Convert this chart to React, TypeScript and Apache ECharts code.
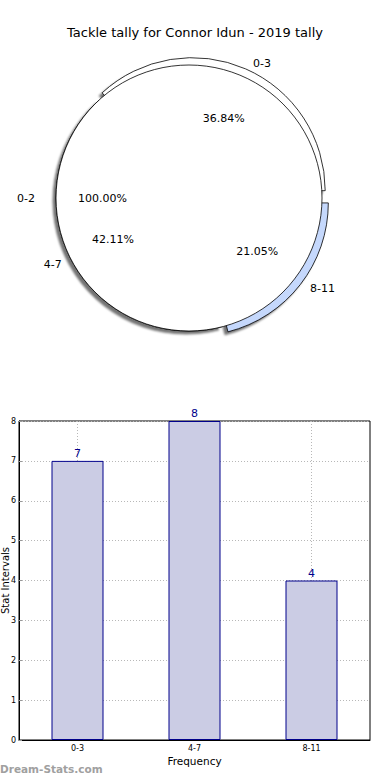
import React, { useEffect, useRef } from 'react';
import * as echarts from 'echarts';

const chartTitle = 'Tackle tally for Connor Idun - 2019 tally';
const fullSliceName = '0-2';
const pieNames = ['0-3', '4-7', '8-11'];
const pieValues = [7, 8, 4];
const pieColors = ['#ffffff', '#ffffff', '#c5d8fc'];
const pieExploded = [true, false, true];
const barCategories = ['0-3', '4-7', '8-11'];
const barValues = [7, 8, 4];
const yMin = 0;
const yMax = 8;
const yStep = 1;
const xAxisName = 'Frequency';
const yAxisName = 'Stat Intervals';
const watermark = 'Dream-Stats.com';

const FONT = '"DejaVu Sans", sans-serif';

export default function App() {
  const ref = useRef<HTMLDivElement>(null);
  useEffect(() => {
    if (!ref.current) return;
    const chart = echarts.init(ref.current, undefined, { renderer: 'svg' });
    const center = [189, 198];
    const R = 133;
    const total = pieValues.reduce((a, b) => a + b, 0);
    const pct = (p: any) => p.percent.toFixed(2) + '%';
    const backData = pieNames.map((n, i) => ({
      name: n,
      value: pieValues[i],
      selected: pieExploded[i],
      itemStyle: {
        color: pieColors[i],
        borderColor: '#000',
        borderWidth: 0.8,
        shadowColor: 'rgba(0,0,0,0.55)',
        shadowBlur: 2,
        shadowOffsetX: -3,
        shadowOffsetY: 3,
      },
    }));
    const option: any = {
      animation: false,
      textStyle: { fontFamily: FONT },
      title: {
        text: chartTitle,
        left: 'center',
        top: 21,
        textStyle: { fontFamily: FONT, fontSize: 13, fontWeight: 'normal', color: '#000' },
      },
      grid: {
        left: 19,
        right: 20,
        top: 421,
        bottom: 40,
        outerBoundsMode: 'none',
        containLabel: false,
        show: true,
        borderColor: '#000',
        borderWidth: 1,
        backgroundColor: 'transparent',
      },
      xAxis: {
        type: 'category',
        data: barCategories,
        name: xAxisName,
        nameLocation: 'middle',
        nameGap: 15,
        nameMoveOverlap: false,
        nameTextStyle: { fontFamily: FONT, fontSize: 10.5, color: '#000' },
        axisLine: { lineStyle: { color: '#000', width: 1 } },
        axisTick: { inside: true, alignWithLabel: true, length: 3, lineStyle: { color: '#999' } },
        axisLabel: { fontFamily: FONT, fontSize: 8, color: '#000', margin: 4 },
        splitLine: {
          show: true,
          alignWithLabel: true,
          lineStyle: { color: '#b8b8b8', type: [1, 2], width: 1 },
        },
      },
      yAxis: {
        type: 'value',
        min: yMin,
        max: yMax,
        interval: yStep,
        name: yAxisName,
        nameLocation: 'middle',
        nameGap: 9,
        nameRotate: 90,
        nameMoveOverlap: false,
        nameTextStyle: { fontFamily: FONT, fontSize: 10, color: '#000' },
        axisLine: { show: true, lineStyle: { color: '#000', width: 1 } },
        axisTick: { show: true, inside: true, length: 3, lineStyle: { color: '#999' } },
        axisLabel: { fontFamily: FONT, fontSize: 8, color: '#000', margin: 3 },
        splitLine: { show: true, lineStyle: { color: '#b8b8b8', type: [1, 2], width: 1 } },
      },
      graphic: [
        {
          type: 'text',
          left: 0,
          top: 763,
          style: { text: watermark, fill: '#a0a0a0', font: 'bold 10.5px "DejaVu Sans", sans-serif' },
        },
      ],
      series: [
        {
          type: 'pie',
          z: 1,
          center,
          radius: R,
          startAngle: 0,
          clockwise: false,
          avoidLabelOverlap: false,
          selectedMode: 'multiple',
          selectedOffset: 8,
          silent: true,
          data: backData,
          label: {
            show: true,
            position: 'outside',
            formatter: '{b}',
            fontFamily: FONT,
            fontSize: 11,
            color: '#000',
          },
          labelLine: { show: false, length: 6, length2: 0 },
          emphasis: { disabled: true },
        },
        {
          type: 'pie',
          z: 2,
          center,
          radius: R,
          startAngle: 0,
          clockwise: false,
          avoidLabelOverlap: false,
          silent: true,
          data: [
            {
              name: fullSliceName,
              value: total,
              itemStyle: { color: '#ffffff', borderColor: '#000', borderWidth: 0.8 },
            },
          ],
          label: {
            show: true,
            position: 'outside',
            formatter: '{b}',
            fontFamily: FONT,
            fontSize: 11,
            color: '#000',
          },
          labelLine: { show: false, length: 16, length2: 0 },
          emphasis: { disabled: true },
        },
        {
          type: 'pie',
          z: 3,
          center,
          radius: [34, R],
          startAngle: 0,
          clockwise: false,
          avoidLabelOverlap: false,
          silent: true,
          data: pieNames.map((n, i) => ({ name: n, value: pieValues[i] })),
          itemStyle: { color: 'rgba(0,0,0,0)', borderWidth: 0 },
          label: {
            show: true,
            position: 'inside',
            formatter: pct,
            fontFamily: FONT,
            fontSize: 11,
            color: '#000',
          },
          labelLine: { show: false },
          emphasis: { disabled: true },
        },
        {
          type: 'pie',
          z: 3,
          center,
          radius: [34, R],
          startAngle: 0,
          clockwise: false,
          avoidLabelOverlap: false,
          silent: true,
          data: [{ name: fullSliceName, value: total }],
          itemStyle: { color: 'rgba(0,0,0,0)', borderWidth: 0 },
          label: {
            show: true,
            position: 'inside',
            formatter: pct,
            fontFamily: FONT,
            fontSize: 11,
            color: '#000',
          },
          labelLine: { show: false },
          emphasis: { disabled: true },
        },
        {
          type: 'bar',
          data: barValues,
          barWidth: 52,
          itemStyle: { color: '#cbcce4', borderColor: '#00008b', borderWidth: 1 },
          label: {
            show: true,
            position: 'top',
            distance: 2,
            fontFamily: FONT,
            fontSize: 11,
            color: '#00008b',
          },
          emphasis: { disabled: true },
        },
      ],
    };
    chart.setOption(option);
    return () => chart.dispose();
  }, []);
  return (
    <div
      ref={ref}
      style={{ position: 'absolute', left: 0, top: 0, width: 390, height: 780, background: '#fff' }}
    />
  );
}
